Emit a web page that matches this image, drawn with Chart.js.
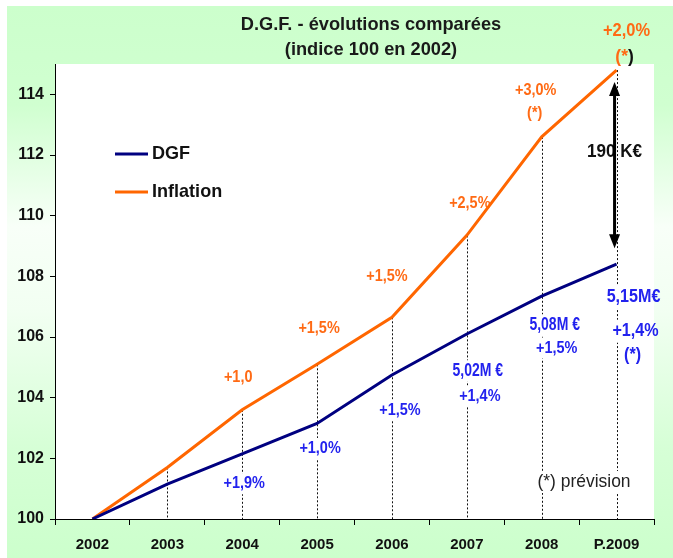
<!DOCTYPE html>
<html><head><meta charset="utf-8">
<script src="https://cdn.jsdelivr.net/npm/chart.js@4/dist/chart.umd.min.js"></script>
<style>html,body{margin:0;padding:0;background:#fff}#wrap{width:673px;height:558px}</style>
</head><body><div id="wrap"><canvas id="c" width="673" height="558"></canvas></div>
<script>
// ---- data ----
const categories = ['2002', '2003', '2004', '2005', '2006', '2007', '2008', 'P.2009'];
const dgfIndex = [100, 101.15, 102.15, 103.15, 104.75, 106.1, 107.35, 108.4];
const inflationIndex = [100, 101.7, 103.6, 105.1, 106.65, 109.35, 112.6, 114.8];
const yTickValues = [100, 102, 104, 106, 108, 110, 112, 114];
const inflationRates = ['', '', '+1,0', '+1,5%', '+1,5%', '+2,5%', '+3,0%', '+2,0%'];
const inflationForecast = [false, false, false, false, false, false, true, true];
const dgfRates = ['', '', '+1,9%', '+1,0%', '+1,5%', '+1,4%', '+1,5%', '+1,4%'];
const dgfAmounts = ['', '', '', '', '', '5,02M €', '5,08M €', '5,15M€'];
const dgfForecast = [false, false, false, false, false, false, false, true];
const titleLines = ['D.G.F. - évolutions comparées', '(indice 100 en 2002)'];
const gapText = '190 K€';
const footnote = '(*) prévision';

// ---- layout / style (pixel offsets of annotations relative to their point) ----
const FONT = "'Liberation Sans', Arial, sans-serif";
const ORANGE = '#ff6600', ORANGE_TXT = '#ff6a14', NAVY = '#000080', BLUE_TXT = '#2222ee';
const lay = {
  infl:     {2:[-4,-32,17], 3:[2,-36,17], 4:[-5,-41,17], 5:[3,-32,17], 6:[-6,-46,17], 7:[10,-39,17.5]},
  inflStar: {6:[-7,-23,17], 7:[8,-13,17.5]},
  dgfRate:  {2:[2,30,17], 3:[3,25,17], 4:[8,35,17], 5:[13,62,17], 6:[15,52,17], 7:[19,67,19]},
  dgfAmt:   {5:[11,37,17.5], 6:[13,29,17.5], 7:[17,33,19]},
  dgfStar:  {7:[16,91,19]}
};

function txt(ctx, t, x, y, size, color, opts = {}) {
  const h = opts.h ?? 0.85;
  ctx.save();
  ctx.font = (opts.weight ?? 'bold') + ' ' + size + 'px ' + FONT;
  const w = ctx.measureText(t).width * h;
  if (opts.bg && opts.area) {
    const a = opts.area;
    ctx.save();
    ctx.beginPath(); ctx.rect(a.left, a.top, a.right - a.left, a.bottom - a.top); ctx.clip();
    ctx.fillStyle = '#fff';
    ctx.fillRect(x - w / 2 - 2, y - size / 2 - 2, w + 4, size + 4);
    ctx.restore();
  }
  ctx.translate(x, y); ctx.scale(h, 1);
  ctx.fillStyle = color; ctx.textAlign = 'center'; ctx.textBaseline = 'middle';
  ctx.fillText(t, 0, 0);
  ctx.restore();
  return w;
}

const deco = {
  id: 'deco',
  beforeDraw(chart) {
    const ctx = chart.ctx, a = chart.chartArea;
    ctx.save();
    const g = ctx.createLinearGradient(0, 6, 0, 558);
    g.addColorStop(0, '#ccffcc'); g.addColorStop(0.18, '#d0ffd0');
    g.addColorStop(0.40, '#f8fff8'); g.addColorStop(0.55, '#f2fff2');
    g.addColorStop(0.80, '#d6ffd6'); g.addColorStop(1, '#ccffcc');
    ctx.fillStyle = g; ctx.fillRect(7, 6, 666, 552);
    ctx.fillStyle = '#fff'; ctx.fillRect(a.left, a.top, a.right - a.left, a.bottom - a.top);
    // title
    txt(ctx, titleLines[0], 371, 25, 19, '#1a1a1a', {h: 0.96});
    txt(ctx, titleLines[1], 371, 50, 19, '#1a1a1a', {h: 0.96});
    ctx.restore();
  },
  beforeDatasetsDraw(chart) {
    const ctx = chart.ctx, a = chart.chartArea, xs = chart.scales.x, ys = chart.scales.y;
    // drop lines
    ctx.save();
    ctx.strokeStyle = '#111'; ctx.lineWidth = 1; ctx.setLineDash([2, 2]);
    for (let i = 1; i < categories.length; i++) {
      const x = Math.round(xs.getPixelForValue(i)) + 0.5;
      ctx.beginPath(); ctx.moveTo(x, ys.getPixelForValue(inflationIndex[i])); ctx.lineTo(x, a.bottom); ctx.stroke();
    }
    ctx.restore();
    // notes
    for (let i = 0; i < categories.length; i++) {
      const px = xs.getPixelForValue(i), pyI = ys.getPixelForValue(inflationIndex[i]), pyD = ys.getPixelForValue(dgfIndex[i]);
      if (inflationRates[i] && lay.infl[i]) {
        const [dx, dy, s] = lay.infl[i];
        txt(ctx, inflationRates[i], px + dx, pyI + dy, s, ORANGE_TXT, {h: i === 7 ? 0.94 : 0.85});
      }
      if (inflationForecast[i] && lay.inflStar[i]) {
        const [dx, dy, s] = lay.inflStar[i];
        if (i === 7) {
          ctx.save(); ctx.font = 'bold ' + s + 'px ' + FONT;
          const w1 = ctx.measureText('(*').width, w2 = ctx.measureText(')').width;
          ctx.restore();
          const left = px + dx - (w1 + w2) / 2;
          txt(ctx, '(*', left + w1 / 2, pyI + dy, s, ORANGE_TXT, {h: 1});
          txt(ctx, ')', left + w1 + w2 / 2, pyI + dy, s, '#111', {h: 1});
        } else {
          txt(ctx, '(*)', px + dx, pyI + dy, s, ORANGE_TXT);
        }
      }
      if (dgfAmounts[i] && lay.dgfAmt[i]) {
        const [dx, dy, s] = lay.dgfAmt[i];
        txt(ctx, dgfAmounts[i], px + dx, pyD + dy, s, BLUE_TXT, {h: i === 7 ? 0.85 : 0.8, bg: true, area: a});
      }
      if (dgfRates[i] && lay.dgfRate[i]) {
        const [dx, dy, s] = lay.dgfRate[i];
        txt(ctx, dgfRates[i], px + dx, pyD + dy, s, BLUE_TXT, {bg: true, area: a});
      }
      if (dgfForecast[i] && lay.dgfStar[i]) {
        const [dx, dy, s] = lay.dgfStar[i];
        txt(ctx, '(*)', px + dx, pyD + dy, s, BLUE_TXT, {bg: true, area: a});
      }
    }
    // gap text
    const last = categories.length - 1;
    const gx = xs.getPixelForValue(last) - 2;
    const gTop = ys.getPixelForValue(inflationIndex[last]), gBot = ys.getPixelForValue(dgfIndex[last]);
    txt(ctx, gapText, gx, (gTop + gBot) / 2 - 15, 19, '#111', {h: 0.9});
    // footnote
    txt(ctx, footnote, a.right - 70, a.bottom - 37, 18, '#222', {h: 0.97, weight: 'normal', bg: true, area: a});
    // legend
    ctx.save();
    chart.data.datasets.forEach((ds, k) => {
      const y = 154 + k * 38;
      ctx.strokeStyle = ds.borderColor; ctx.lineWidth = 3;
      ctx.beginPath(); ctx.moveTo(115, y); ctx.lineTo(148, y); ctx.stroke();
      ctx.font = 'bold 19px ' + FONT; ctx.fillStyle = '#111'; ctx.textAlign = 'left'; ctx.textBaseline = 'middle';
      ctx.save(); ctx.translate(152, y); ctx.scale(0.95, 1); ctx.fillText(ds.label, 0, 0); ctx.restore();
    });
    ctx.restore();
  },
  afterDatasetsDraw(chart) {
    const ctx = chart.ctx, xs = chart.scales.x, ys = chart.scales.y;
    const last = categories.length - 1;
    const x = xs.getPixelForValue(last) - 2;
    const yT = ys.getPixelForValue(inflationIndex[last]) + 12;
    const yB = ys.getPixelForValue(dgfIndex[last]) - 16;
    ctx.save();
    ctx.strokeStyle = '#000'; ctx.fillStyle = '#000'; ctx.lineWidth = 3;
    ctx.beginPath(); ctx.moveTo(x, yT + 10); ctx.lineTo(x, yB - 10); ctx.stroke();
    ctx.beginPath(); ctx.moveTo(x, yT); ctx.lineTo(x - 5.5, yT + 14); ctx.lineTo(x + 5.5, yT + 14); ctx.closePath(); ctx.fill();
    ctx.beginPath(); ctx.moveTo(x, yB); ctx.lineTo(x - 5.5, yB - 14); ctx.lineTo(x + 5.5, yB - 14); ctx.closePath(); ctx.fill();
    ctx.restore();
  }
};

new Chart(document.getElementById('c'), {
  type: 'line',
  data: {
    labels: categories,
    datasets: [
      {label: 'DGF', data: dgfIndex, borderColor: NAVY, borderWidth: 3, pointRadius: 0, tension: 0, fill: false},
      {label: 'Inflation', data: inflationIndex, borderColor: ORANGE, borderWidth: 3, pointRadius: 0, tension: 0, fill: false}
    ]
  },
  options: {
    responsive: false, animation: false, devicePixelRatio: 1,
    layout: {padding: {left: 0, right: 19, top: 64, bottom: 0}},
    plugins: {legend: {display: false}, title: {display: false}, tooltip: {enabled: false}},
    scales: {
      x: {
        type: 'category', offset: true,
        grid: {offset: true, drawOnChartArea: false, drawTicks: true, tickLength: 6, color: '#000'},
        border: {color: '#000', width: 1},
        ticks: {font: {family: FONT, size: 15, weight: 'bold'}, color: '#111', padding: 11, maxRotation: 0, autoSkip: false},
        afterFit(s) { s.height = 39; }
      },
      y: {
        min: 100, max: 115,
        afterBuildTicks(s) { s.ticks = yTickValues.map(v => ({value: v})); },
        grid: {drawOnChartArea: false, drawTicks: true, tickLength: 5, color: '#000'},
        border: {color: '#000', width: 1},
        ticks: {font: {family: FONT, size: 16, weight: 'bold'}, color: '#111', padding: 6},
        afterFit(s) { s.width = 55; }
      }
    }
  },
  plugins: [deco]
});
</script></body></html>
